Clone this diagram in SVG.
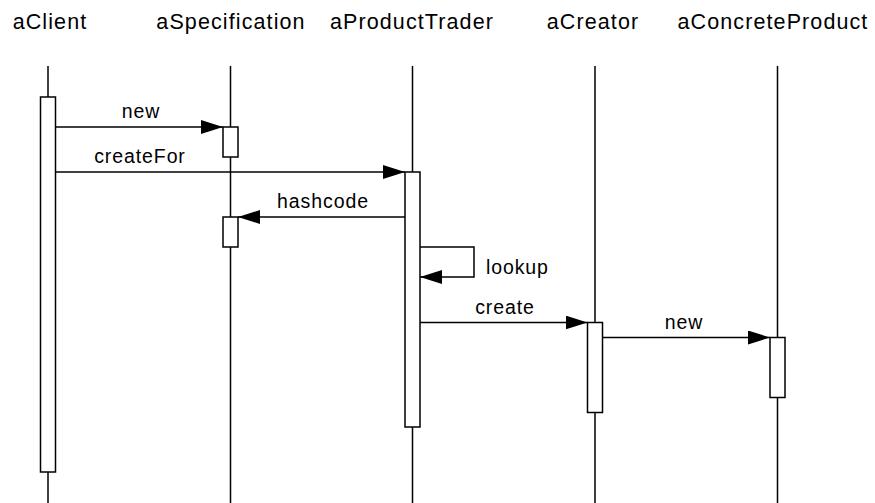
<svg xmlns="http://www.w3.org/2000/svg" width="875" height="503" viewBox="0 0 875 503">
<defs>
<style>
.hdr{font-family:"Liberation Sans",Arial,sans-serif;font-size:21.5px;letter-spacing:1.1px;fill:#000;text-anchor:middle}
.lbl{font-family:"Liberation Sans",Arial,sans-serif;font-size:19.5px;letter-spacing:0.9px;fill:#000}
.life{stroke:#000;stroke-width:1.5;fill:none}
.act{stroke:#000;stroke-width:1.5;fill:#fff}
.msg{stroke:#000;stroke-width:1.5;fill:none;marker-end:url(#arr)}
</style>
<marker id="arr" viewBox="0 0 22 14" refX="22" refY="7" markerWidth="22" markerHeight="14" markerUnits="userSpaceOnUse" orient="auto">
<path d="M0,0 L22,7 L0,14 z" fill="#000"/>
</marker>
</defs>
<rect width="875" height="503" fill="#fff"/>
<g id="aClient">
<text class="hdr" x="50" y="29">aClient</text>
<line class="life" x1="48" y1="66" x2="48" y2="503"/>
<rect class="act" x="40.5" y="97" width="15" height="375"/>
</g>
<g id="aSpecification">
<text class="hdr" x="231" y="29">aSpecification</text>
<line class="life" x1="230.5" y1="66" x2="230.5" y2="503"/>
<rect class="act" x="223" y="127" width="15" height="30"/>
<rect class="act" x="223" y="217" width="15" height="30"/>
</g>
<g id="aProductTrader">
<text class="hdr" x="412" y="29">aProductTrader</text>
<line class="life" x1="412.5" y1="66" x2="412.5" y2="503"/>
<rect class="act" x="405" y="172" width="15" height="255"/>
</g>
<g id="aCreator">
<text class="hdr" x="593" y="29">aCreator</text>
<line class="life" x1="595" y1="66" x2="595" y2="503"/>
<rect class="act" x="587.5" y="322.5" width="15" height="90"/>
</g>
<g id="aConcreteProduct">
<text class="hdr" x="773" y="29">aConcreteProduct</text>
<line class="life" x1="777.5" y1="66" x2="777.5" y2="503"/>
<rect class="act" x="770" y="337.5" width="15" height="60"/>
</g>
<g id="connectors">
<line class="msg" x1="55.5" y1="127" x2="223" y2="127"/>
<text class="lbl" x="141" y="118" text-anchor="middle">new</text>
<line class="msg" x1="55.5" y1="172" x2="405" y2="172"/>
<text class="lbl" x="140" y="163" text-anchor="middle">createFor</text>
<line class="msg" x1="405" y1="217" x2="238" y2="217"/>
<text class="lbl" x="323" y="208" text-anchor="middle">hashcode</text>
<path class="msg" d="M420,247 H474 V277 H420"/>
<text class="lbl" x="486" y="274">lookup</text>
<line class="msg" x1="420" y1="322.5" x2="587.5" y2="322.5"/>
<text class="lbl" x="505" y="314" text-anchor="middle">create</text>
<line class="msg" x1="602.5" y1="337.5" x2="770" y2="337.5"/>
<text class="lbl" x="684" y="329" text-anchor="middle">new</text>
</g>
</svg>
